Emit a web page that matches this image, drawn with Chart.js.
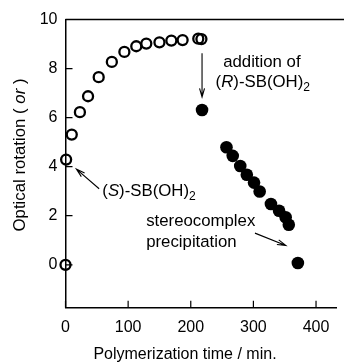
<!DOCTYPE html>
<html>
<head>
<meta charset="utf-8">
<script src="https://cdn.jsdelivr.net/npm/chart.js@4"></script>
<style>
html,body{margin:0;padding:0;background:#fff;}
#wrap{width:344px;height:362px;}
</style>
</head>
<body>
<div id="wrap"><canvas id="c" width="344" height="362"></canvas></div>
<script>
// Data
const openTimes = [0, 1, 10, 23, 36, 53, 74, 94, 113, 129, 150, 169, 187, 212, 217];
const openRotation = [0, 4.29, 5.31, 6.22, 6.87, 7.65, 8.27, 8.68, 8.91, 9.02, 9.07, 9.14, 9.16, 9.22, 9.20];
const filledTimes = [218, 257, 267, 279, 289.5, 301, 310, 328, 341, 351.5, 356.5, 371];
const filledRotation = [6.31, 4.79, 4.44, 4.03, 3.67, 3.35, 2.99, 2.48, 2.20, 1.94, 1.63, 0.07];
const xTickValues = [0, 100, 200, 300, 400];
const yTickValues = [0, 2, 4, 6, 8, 10];

const FONT = '"Liberation Sans", Arial, Helvetica, sans-serif';
const FS = 16;
const AFS = 16.8;

function drawRich(ctx, parts, x, y, align, fs) {
  const fontFor = s => (s === 'i' ? 'italic ' : '') + (s === 'sub' ? (fs*0.72).toFixed(1) : fs) + 'px ' + FONT;
  let w = 0;
  parts.forEach(p => { ctx.font = fontFor(p[1]); w += ctx.measureText(p[0]).width; });
  let cx = align === 'center' ? x - w/2 : x;
  ctx.textAlign = 'left';
  ctx.textBaseline = 'middle';
  parts.forEach(p => {
    ctx.font = fontFor(p[1]);
    ctx.fillText(p[0], cx, p[1] === 'sub' ? y + 5 : y);
    cx += ctx.measureText(p[0]).width;
  });
}

function arrow(ctx, x1, y1, x2, y2) {
  ctx.beginPath();
  ctx.moveTo(x1, y1); ctx.lineTo(x2, y2);
  const a = Math.atan2(y2 - y1, x2 - x1);
  const L = 9, spread = 0.28;
  ctx.moveTo(x2 - L*Math.cos(a - spread), y2 - L*Math.sin(a - spread));
  ctx.lineTo(x2, y2);
  ctx.lineTo(x2 - L*Math.cos(a + spread), y2 - L*Math.sin(a + spread));
  ctx.stroke();
}

const deco = {
  id: 'deco',
  afterDatasetsDraw(chart) {
    const ctx = chart.ctx, xs = chart.scales.x, ys = chart.scales.y, a = chart.chartArea;
    ctx.save();
    ctx.strokeStyle = '#000';
    ctx.fillStyle = '#000';
    // top frame line
    ctx.lineWidth = 1.5;
    ctx.beginPath(); ctx.moveTo(a.left, a.top); ctx.lineTo(chart.width, a.top); ctx.stroke();
    // inward ticks
    ctx.lineWidth = 1.2;
    ctx.beginPath();
    yTickValues.forEach(v => { const p = ys.getPixelForValue(v); ctx.moveTo(a.left, p); ctx.lineTo(a.left + 7, p); });
    xTickValues.forEach(v => { const p = xs.getPixelForValue(v); ctx.moveTo(p, a.bottom); ctx.lineTo(p, a.bottom - 7); });
    ctx.stroke();
    // annotations
    ctx.lineWidth = 1.1;
    const P = (t, v) => [xs.getPixelForValue(t), ys.getPixelForValue(v)];
    let s = P(53.7, 3.10), e = P(17.4, 3.90);
    arrow(ctx, s[0], s[1], e[0], e[1]);
    s = P(218, 8.62); e = P(218, 6.84);
    arrow(ctx, s[0], s[1], e[0], e[1]);
    s = P(302.5, 1.29); e = P(351.8, 0.79);
    arrow(ctx, s[0], s[1], e[0], e[1]);

    let q = P(313.5, 8.24);
    drawRich(ctx, [['addition of', '']], q[0], q[1], 'center', AFS);
    q = P(315, 7.42);
    drawRich(ctx, [['(', ''], ['R', 'i'], [')-SB(OH)', ''], ['2', 'sub']], q[0], q[1], 'center', AFS);
    q = P(58.8, 2.98);
    drawRich(ctx, [['(', ''], ['S', 'i'], [')-SB(OH)', ''], ['2', 'sub']], q[0], q[1], 'left', AFS);
    q = P(128.8, 1.77);
    drawRich(ctx, [['stereocomplex', '']], q[0], q[1], 'left', AFS);
    q = P(128.8, 0.93);
    drawRich(ctx, [['precipitation', '']], q[0], q[1], 'left', AFS);

    // axis titles
    ctx.font = FS + 'px ' + FONT;
    ctx.textAlign = 'center'; ctx.textBaseline = 'middle';
    ctx.fillText('Polymerization time / min.', 185, 355);
    ctx.save();
    ctx.translate(20, 155);
    ctx.rotate(-Math.PI/2);
    drawRich(ctx, [['Optical rotation ( ', ''], ['or', 'i'], [' )', '']], 0, 0, 'center', AFS);
    ctx.restore();
    ctx.restore();
  }
};

new Chart(document.getElementById('c'), {
  type: 'scatter',
  data: {
    datasets: [
      {
        data: openTimes.map((t, i) => ({x: t, y: openRotation[i]})),
        pointStyle: 'circle', pointRadius: 5, pointBorderWidth: 2.3,
        pointBackgroundColor: 'rgba(255,255,255,0)', pointBorderColor: '#000',
        clip: false, order: 2
      },
      {
        data: filledTimes.map((t, i) => ({x: t, y: filledRotation[i]})),
        pointStyle: 'circle', pointRadius: 6.3, pointBorderWidth: 0,
        pointBackgroundColor: '#000', pointBorderColor: '#000',
        clip: false, order: 1
      }
    ]
  },
  options: {
    responsive: false, animation: false, devicePixelRatio: 1,
    layout: {padding: {top: 19.5, right: 0, left: 0, bottom: 0}},
    plugins: {legend: {display: false}, tooltip: {enabled: false}},
    scales: {
      x: {
        type: 'linear', min: 0, max: 433,
        afterBuildTicks: sc => { sc.ticks = xTickValues.map(v => ({value: v})); },
        afterFit: sc => { sc.height = 54.3; },
        grid: {display: true, drawOnChartArea: false, drawTicks: false},
        border: {display: true, color: '#000', width: 1.5},
        ticks: {color: '#000', font: {family: FONT, size: FS}, padding: 10, maxRotation: 0}
      },
      y: {
        type: 'linear', min: -1.75, max: 10,
        afterBuildTicks: sc => { sc.ticks = yTickValues.map(v => ({value: v})); },
        afterFit: sc => { sc.width = 65.5; },
        grid: {display: true, drawOnChartArea: false, drawTicks: false},
        border: {display: true, color: '#000', width: 1.5},
        ticks: {color: '#000', font: {family: FONT, size: FS}, padding: 8}
      }
    }
  },
  plugins: [deco]
});
</script>
</body>
</html>
